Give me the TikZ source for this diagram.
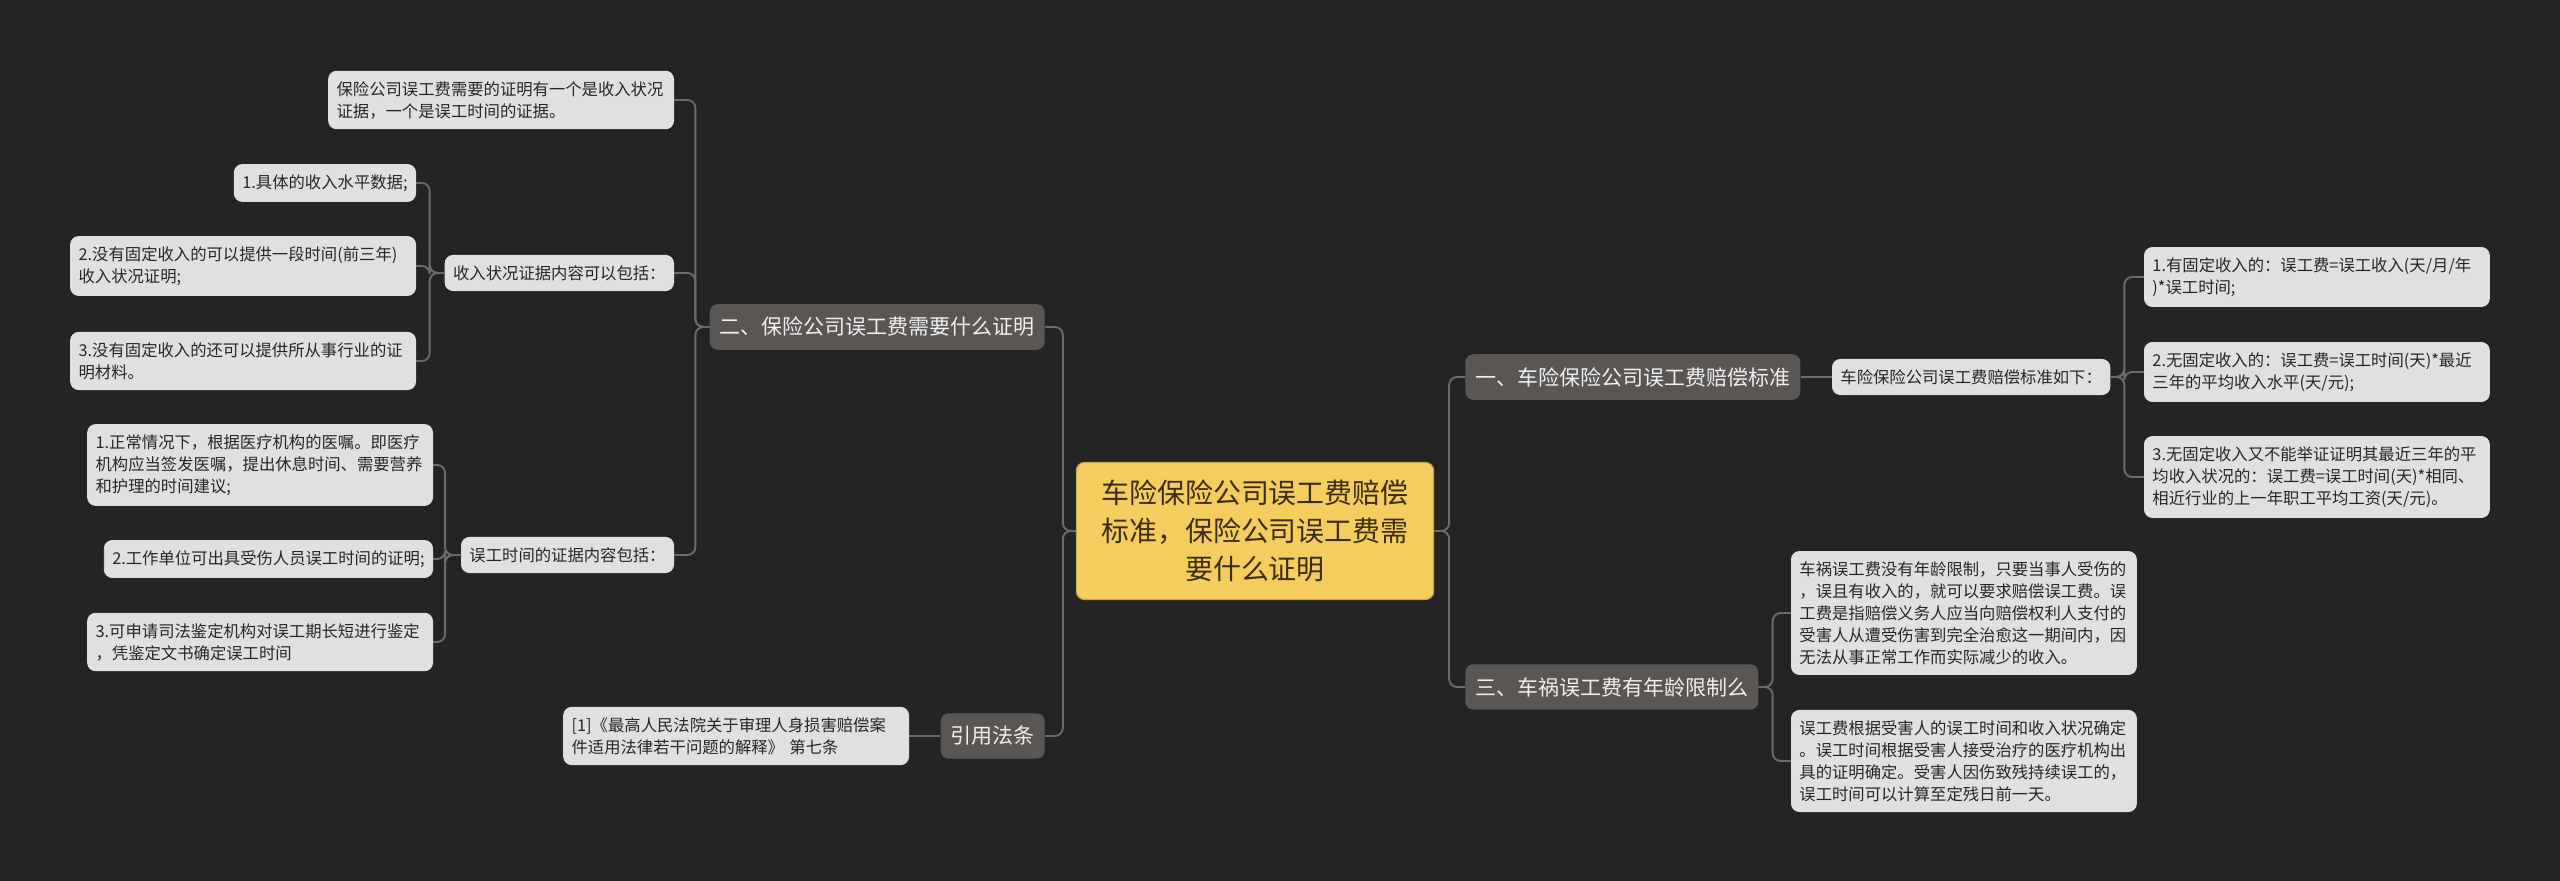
\documentclass[tikz,border=0pt]{standalone}
\usepackage{fontspec}
\usepackage{tikz}
\usetikzlibrary{calc}
\newfontfamily\cjk{Noto Sans CJK SC}
\definecolor{Canvas}{HTML}{242424}
\definecolor{Leaf}{HTML}{E0E0E0}
\definecolor{LeafText}{HTML}{262626}
\definecolor{Branch}{HTML}{5A5654}
\definecolor{Gold}{HTML}{F5CD5E}
\definecolor{GoldText}{HTML}{3A2E12}
\definecolor{Wire}{HTML}{6B6B6B}
\tikzset{
  wire/.style={draw=Wire,line width=1.1pt,rounded corners=4.5pt},
  leaf/.style={rounded corners=1.6mm,fill=Leaf,draw=white!88!black,line width=0.5pt,text=LeafText,
    inner xsep=1.6mm,inner ysep=2mm,font=\cjk\fontsize{9.3}{12.5}\selectfont},
  leafwide/.style={leaf,text width=6.58cm,align=left},
  branch/.style={rounded corners=1.6mm,fill=Branch,text=white!94!black,inner xsep=2mm,inner ysep=2.6mm,
    font=\cjk\fontsize{11.95}{14}\selectfont},
  rootbox/.style={rounded corners=1.6mm,fill=Gold,draw=Gold!80!black,line width=0.6pt,text=GoldText,
    align=center,inner xsep=5mm,inner ysep=3.5mm,font=\cjk\fontsize{15.9}{21.6}\selectfont},
}

\begin{document}
\begin{tikzpicture}[x=0.02cm,y=-0.02cm]
    \fill[Canvas] (0,0) rectangle (2560,881);

    \node[rootbox] (root) at (1255,531) {车险保险公司误工费赔偿\\标准，保险公司误工费需\\要什么证明};

    \node[branch,anchor=east] (b2) at (1045,327) {二、保险公司误工费需要什么证明};
    \node[branch,anchor=east] (law) at (1045,736) {引用法条};
    \node[branch,anchor=west] (b1) at (1465,377) {一、车险保险公司误工费赔偿标准};
    \node[branch,anchor=west] (b3) at (1465,687) {三、车祸误工费有年龄限制么};

    \node[leafwide,anchor=east] (ev) at (674,100) {保险公司误工费需要的证明有一个是收入状况\\证据，一个是误工时间的证据。};
    \node[leaf,anchor=east] (inc) at (674,273) {收入状况证据内容可以包括：};
    \node[leaf,anchor=east] (inc1) at (416,183) {1.具体的收入水平数据;};
    \node[leafwide,anchor=east] (inc2) at (416,266) {2.没有固定收入的可以提供一段时间(前三年)\\收入状况证明;};
    \node[leafwide,anchor=east] (inc3) at (416,361) {3.没有固定收入的还可以提供所从事行业的证\\明材料。};

    \node[leaf,anchor=east] (tm) at (674,555) {误工时间的证据内容包括：};
    \node[leafwide,anchor=east] (tm1) at (433,465) {1.正常情况下，根据医疗机构的医嘱。即医疗\\机构应当签发医嘱，提出休息时间、需要营养\\和护理的时间建议;};
    \node[leaf,anchor=east] (tm2) at (433,559) {2.工作单位可出具受伤人员误工时间的证明;};
    \node[leafwide,anchor=east] (tm3) at (433,642) {3.可申请司法鉴定机构对误工期长短进行鉴定\\，凭鉴定文书确定误工时间};

    \node[leafwide,anchor=east] (cite) at (909,736) {[1]《最高人民法院关于审理人身损害赔偿案\\件适用法律若干问题的解释》 第七条};

    \node[leaf,anchor=west] (std) at (1832,377) {车险保险公司误工费赔偿标准如下：};
    \node[leafwide,anchor=west] (s1) at (2144,277) {1.有固定收入的：误工费=误工收入(天/月/年\\)*误工时间;};
    \node[leafwide,anchor=west] (s2) at (2144,372) {2.无固定收入的：误工费=误工时间(天)*最近\\三年的平均收入水平(天/元);};
    \node[leafwide,anchor=west] (s3) at (2144,477) {3.无固定收入又不能举证证明其最近三年的平\\均收入状况的：误工费=误工时间(天)*相同、\\相近行业的上一年职工平均工资(天/元)。};

    \node[leafwide,anchor=west] (a1) at (1791,613) {车祸误工费没有年龄限制，只要当事人受伤的\\，误且有收入的，就可以要求赔偿误工费。误\\工费是指赔偿义务人应当向赔偿权利人支付的\\受害人从遭受伤害到完全治愈这一期间内，因\\无法从事正常工作而实际减少的收入。};
    \node[leafwide,anchor=west] (a2) at (1791,761) {误工费根据受害人的误工时间和收入状况确定\\。误工时间根据受害人接受治疗的医疗机构出\\具的证明确定。受害人因伤致残持续误工的，\\误工时间可以计算至定残日前一天。};

    \draw[wire] (root.west) -- ++(-13,0) |- (b2.east);
    \draw[wire] (root.west) -- ++(-13,0) |- (law.east);
    \draw[wire] (root.east) -- ++(15,0) |- (b1.west);
    \draw[wire] (root.east) -- ++(15,0) |- (b3.west);

    \draw[wire] (b2.west) -- ++(-14,0) |- (ev.east);
    \draw[wire] (b2.west) -- ++(-14,0) |- (inc.east);
    \draw[wire] (b2.west) -- ++(-14,0) |- (tm.east);
    \draw[wire] (inc.west) -- ++(-15,0) |- (inc1.east);
    \draw[wire] (inc.west) -- ++(-15,0) |- (inc2.east);
    \draw[wire] (inc.west) -- ++(-15,0) |- (inc3.east);
    \draw[wire] (tm.west) -- ++(-16,0) |- (tm1.east);
    \draw[wire] (tm.west) -- ++(-16,0) |- (tm2.east);
    \draw[wire] (tm.west) -- ++(-16,0) |- (tm3.east);
    \draw[wire] (law.west) -- (cite.east);

    \draw[wire] (b1.east) -- (std.west);
    \draw[wire] (std.east) -- ++(14,0) |- (s1.west);
    \draw[wire] (std.east) -- ++(14,0) |- (s2.west);
    \draw[wire] (std.east) -- ++(14,0) |- (s3.west);
    \draw[wire] (b3.east) -- ++(14,0) |- (a1.west);
    \draw[wire] (b3.east) -- ++(14,0) |- (a2.west);
  \end{tikzpicture}
\end{document}
